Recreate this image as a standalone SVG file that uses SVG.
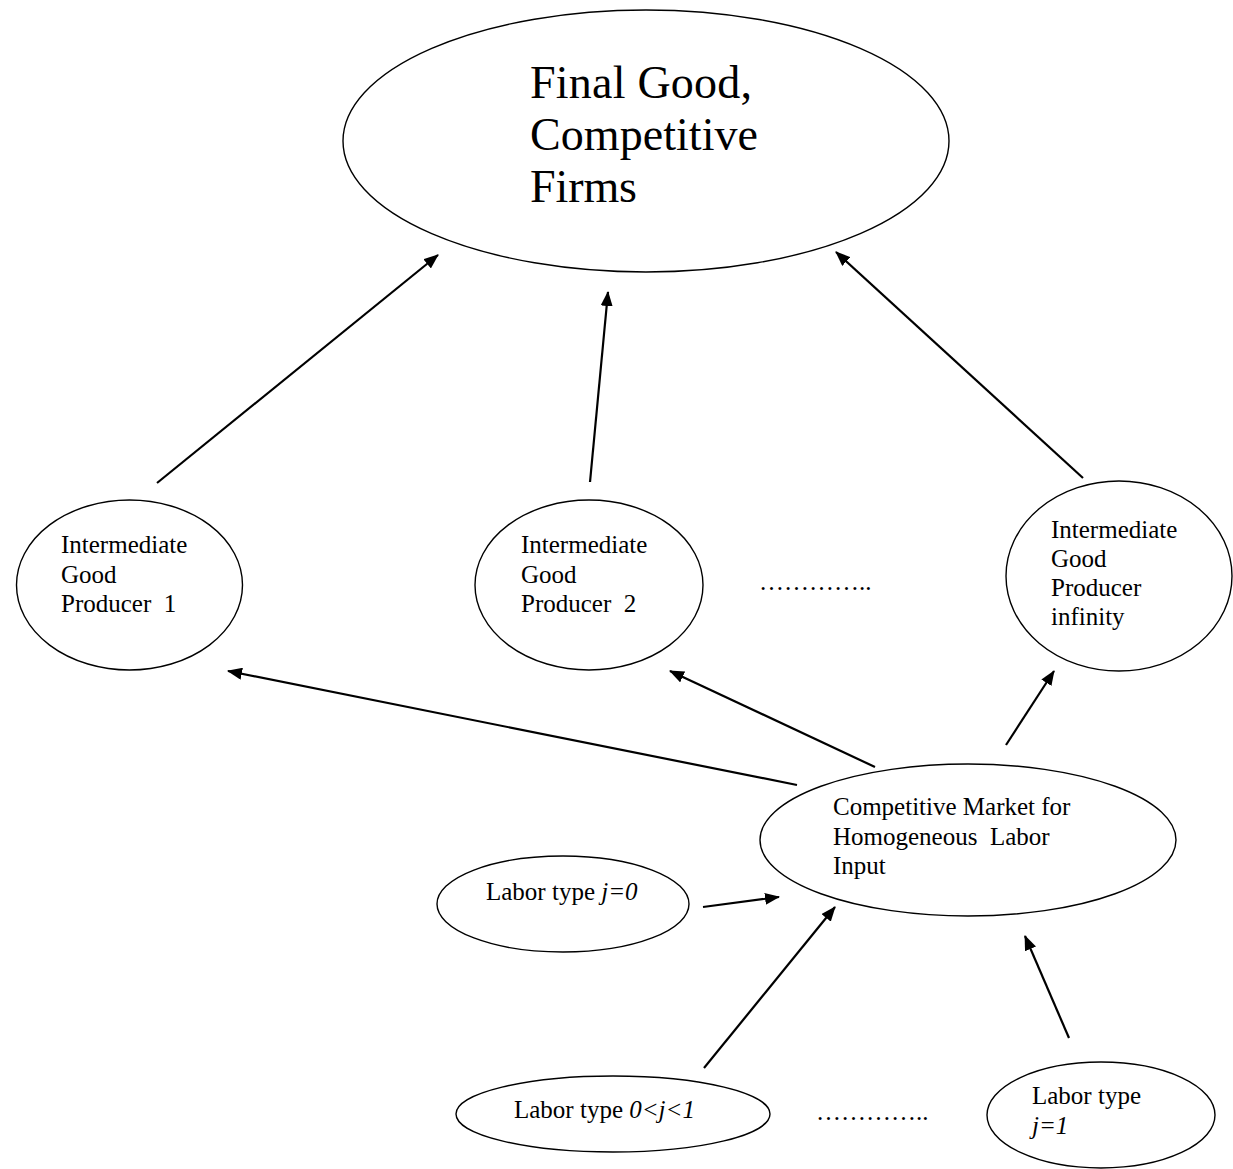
<svg xmlns="http://www.w3.org/2000/svg" width="1233" height="1169" viewBox="0 0 1233 1169">
  <style>
    .node { fill: #ffffff; stroke: #000000; stroke-width: 1.4; }
    .lbl { font-family: "Liberation Serif", "Times New Roman", serif; fill: #000000; font-size: 25px; }
    .big { font-size: 46px; }
    .edge { stroke: #000000; stroke-width: 2.2; fill: none; marker-end: url(#head); }
  </style>
  <defs>
    <marker id="head" markerUnits="userSpaceOnUse" markerWidth="16" markerHeight="12" refX="14" refY="6" orient="auto">
      <path d="M0,0 L15,6 L0,12 Z" fill="#000000"/>
    </marker>
  </defs>
  <rect width="1233" height="1169" fill="#ffffff"/>

  <g id="connectors">
    <line class="edge" x1="157" y1="483" x2="438" y2="255"/>
    <line class="edge" x1="590" y1="482" x2="608" y2="292"/>
    <line class="edge" x1="1083" y1="478" x2="836" y2="252"/>
    <line class="edge" x1="797" y1="785" x2="228" y2="671"/>
    <line class="edge" x1="875" y1="767" x2="670" y2="671"/>
    <line class="edge" x1="1006" y1="745" x2="1054" y2="671"/>
    <line class="edge" x1="703" y1="907" x2="779" y2="897"/>
    <line class="edge" x1="704" y1="1068" x2="835" y2="907"/>
    <line class="edge" x1="1069" y1="1038" x2="1025" y2="936"/>
  </g>

  <g id="final-good">
    <ellipse class="node" cx="646" cy="141" rx="303" ry="131"/>
    <text class="lbl big" x="530" y="98" textLength="222">Final Good,</text>
    <text class="lbl big" x="530" y="150" textLength="228">Competitive</text>
    <text class="lbl big" x="530" y="202" textLength="107">Firms</text>
  </g>

  <g id="producer-1">
    <ellipse class="node" cx="129.5" cy="585" rx="113" ry="85"/>
    <text class="lbl" x="61" y="553">Intermediate</text>
    <text class="lbl" x="61" y="583">Good</text>
    <text class="lbl" x="61" y="612" xml:space="preserve">Producer  1</text>
  </g>

  <g id="producer-2">
    <ellipse class="node" cx="589" cy="585" rx="114" ry="85"/>
    <text class="lbl" x="521" y="553">Intermediate</text>
    <text class="lbl" x="521" y="583">Good</text>
    <text class="lbl" x="521" y="612" xml:space="preserve">Producer  2</text>
  </g>

  <text class="lbl" x="759" y="590">…………..</text>

  <g id="producer-infinity">
    <ellipse class="node" cx="1119" cy="576" rx="113" ry="95"/>
    <text class="lbl" x="1051" y="538">Intermediate</text>
    <text class="lbl" x="1051" y="567">Good</text>
    <text class="lbl" x="1051" y="596">Producer</text>
    <text class="lbl" x="1051" y="625">infinity</text>
  </g>

  <g id="labor-market">
    <ellipse class="node" cx="968" cy="840" rx="208" ry="76"/>
    <text class="lbl" x="833" y="815">Competitive Market for</text>
    <text class="lbl" x="833" y="845" xml:space="preserve">Homogeneous  Labor</text>
    <text class="lbl" x="833" y="874">Input</text>
  </g>

  <g id="labor-j0">
    <ellipse class="node" cx="563" cy="904" rx="126" ry="48"/>
    <text class="lbl" x="486" y="900">Labor type <tspan font-style="italic">j=0</tspan></text>
  </g>

  <g id="labor-mid">
    <ellipse class="node" cx="613" cy="1114" rx="157" ry="38"/>
    <text class="lbl" x="514" y="1118">Labor type <tspan font-style="italic">0&lt;j&lt;1</tspan></text>
  </g>

  <text class="lbl" x="816" y="1120">…………..</text>

  <g id="labor-j1">
    <ellipse class="node" cx="1101" cy="1115" rx="114" ry="53"/>
    <text class="lbl" x="1032" y="1104">Labor type</text>
    <text class="lbl" x="1032" y="1134" font-style="italic">j=1</text>
  </g>
</svg>
